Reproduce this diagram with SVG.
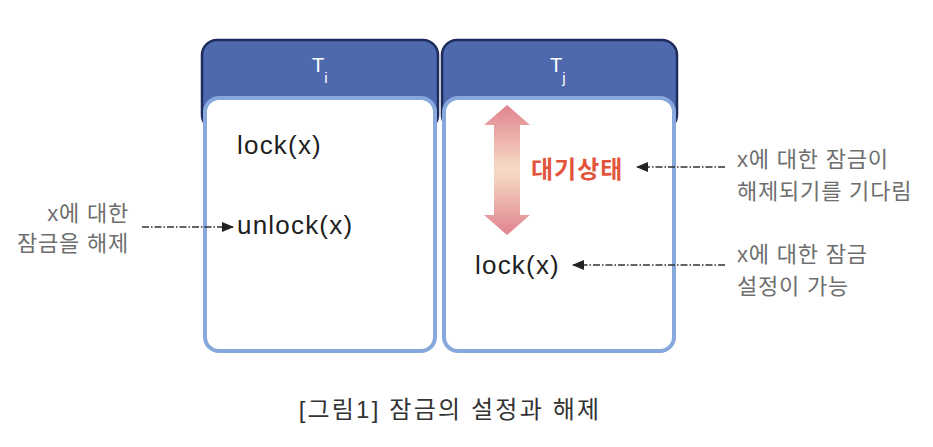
<svg xmlns="http://www.w3.org/2000/svg" width="933" height="447" viewBox="0 0 933 447">
<style>
.hdr{fill:#4e69ae;stroke:#1e2c5e;stroke-width:2.5}
.pnl{fill:#ffffff;stroke:#86a8dc;stroke-width:4}
.tt{font-family:"Liberation Sans",Arial,sans-serif;font-size:20px;fill:#ffffff}
.code{font-family:"Liberation Sans",Arial,sans-serif;font-size:26px;letter-spacing:1.2px;fill:#1e1e1e}
.note{font-family:"Liberation Sans","Noto Sans CJK KR",sans-serif;font-size:22px;letter-spacing:0.8px;fill:#6e6e6e}
.wait{font-family:"Noto Sans CJK KR",sans-serif;font-size:24px;letter-spacing:1px;font-weight:bold;fill:#e2553c}
.cap{font-family:"Liberation Sans","Noto Sans CJK KR",sans-serif;font-size:24px;letter-spacing:2.2px;fill:#333333}
.con{stroke:#333333;stroke-width:1.4;fill:none;stroke-dasharray:7 2 1.5 2}
</style>
<defs>
<marker id="ah" markerWidth="12" markerHeight="10" refX="11" refY="5" orient="auto" markerUnits="userSpaceOnUse">
<path d="M0,0 L12,5 L0,10 Z" fill="#222222"/>
</marker>
<linearGradient id="gr" x1="0" y1="0" x2="0" y2="1">
<stop offset="0" stop-color="#e0838f"/>
<stop offset="0.5" stop-color="#f6dcc6"/>
<stop offset="1" stop-color="#e0838f"/>
</linearGradient>
</defs>
<g id="Ti">
<rect class="hdr" x="202" y="40" width="236" height="90" rx="15"/>
<rect class="pnl" x="205" y="98" width="230" height="253" rx="14"/>
<text class="tt" x="312" y="72">T<tspan font-size="15" dy="11">i</tspan></text>
<text class="code" x="237" y="154">lock(x)</text>
<text class="code" x="237" y="234">unlock(x)</text>
</g>
<g id="Tj">
<rect class="hdr" x="442" y="40" width="235" height="90" rx="15"/>
<rect class="pnl" x="444" y="98" width="230" height="253" rx="14"/>
<text class="tt" x="550" y="72">T<tspan font-size="15" dy="11">j</tspan></text>
<path d="M507,105 L530,125 L520,125 L520,215 L530,215 L507,235 L484,215 L494,215 L494,125 L484,125 Z" fill="url(#gr)"/>
<text class="wait" x="531" y="178">대기상태</text>
<text class="code" x="475" y="274">lock(x)</text>
</g>
<g id="notes">
<text class="note" x="129" y="221" text-anchor="end">x에 대한</text>
<text class="note" x="129" y="251" text-anchor="end">잠금을 해제</text>
<text class="note" x="737" y="167">x에 대한 잠금이</text>
<text class="note" x="737" y="199">해제되기를 기다림</text>
<text class="note" x="737" y="262">x에 대한 잠금</text>
<text class="note" x="737" y="294">설정이 가능</text>
</g>
<g id="connectors">
<line class="con" x1="142" y1="227" x2="233" y2="227" marker-end="url(#ah)"/>
<line class="con" x1="725" y1="167" x2="637" y2="167" marker-end="url(#ah)"/>
<line class="con" x1="725" y1="265" x2="573" y2="265" marker-end="url(#ah)"/>
</g>
<text class="cap" x="450" y="418" text-anchor="middle">[그림1] 잠금의 설정과 해제</text>
</svg>
